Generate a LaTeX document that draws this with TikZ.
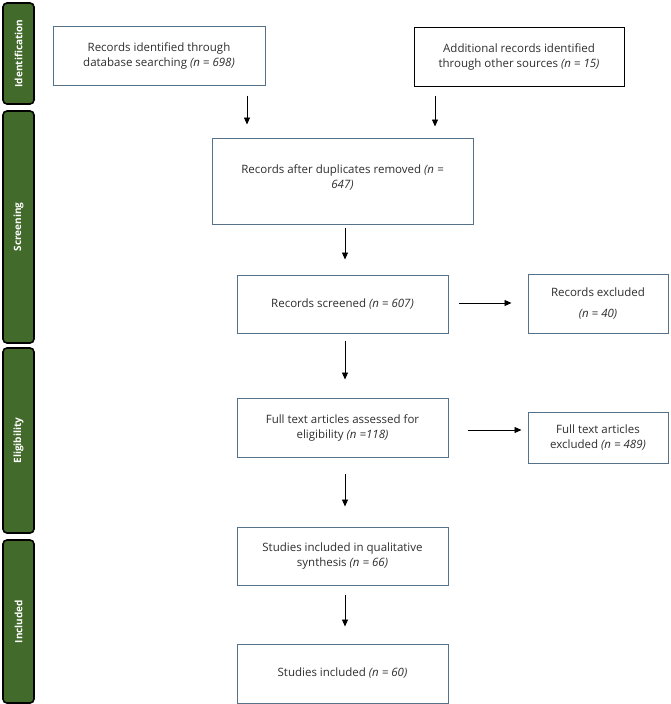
\documentclass[tikz,border=0pt]{standalone}
\usepackage{fontspec}
\setmainfont{Open Sans}
\usetikzlibrary{arrows.meta}
\definecolor{phase}{HTML}{426B2B}
\definecolor{boxline}{HTML}{56728A}
\definecolor{txt}{HTML}{2E2E2E}
\tikzset{
  box/.style={draw=boxline, line width=1pt, fill=white, align=center, text=txt, font=\fontsize{11.5}{15}\selectfont, inner sep=2pt},
  phasebox/.style={draw=black, line width=1.6pt, fill=phase, rounded corners=4pt, minimum width=31pt, text=white, font=\bfseries\fontsize{10}{12}\selectfont},
  arr/.style={-{Triangle[width=6pt,length=7pt]}, line width=0.8pt, black}
}
\newcommand{\nn}[1]{\textit{(n = #1)}}
\begin{document}
\begin{tikzpicture}[x=1pt,y=-1pt]
\useasboundingbox (0,0) rectangle (670,704);
% phases
\node[phasebox, minimum height=101pt] (p1) at (18.5,53.5) {\rotatebox{90}{Identification}};
\node[phasebox, minimum height=232pt] (p2) at (18.5,227) {\rotatebox{90}{Screening}};
\node[phasebox, minimum height=185pt] (p3) at (18.5,440.5) {\rotatebox{90}{Eligibility}};
\node[phasebox, minimum height=163pt] (p4) at (18.5,621.5) {\rotatebox{90}{Included}};
% boxes
\node[box, minimum width=212pt, minimum height=59pt] (b1) at (159,55.5) {Records identified through\\database searching \nn{698}};
\node[box, draw=black, minimum width=210pt, minimum height=59pt] (b2) at (519,56.5) {Additional records identified\\through other sources \nn{15}};
\node[box, minimum width=261pt, minimum height=86pt] (b3) at (342.5,181) {Records after duplicates removed \textit{(n =}\\\textit{647)}\\[-6pt]};
\node[box, minimum width=211pt, minimum height=58pt] (b4) at (342.5,304) {Records screened \nn{607}};
\node[box, minimum width=140pt, minimum height=59pt] (b5) at (598,303.5) {Records excluded\\[6pt]\nn{40}};
\node[box, minimum width=211pt, minimum height=59pt] (b6) at (342.5,427.5) {Full text articles assessed for\\eligibility \textit{(n =118)}};
\node[box, minimum width=140pt, minimum height=51pt] (b7) at (598,437.5) {Full text articles\\excluded \nn{489}};
\node[box, minimum width=211pt, minimum height=58pt] (b8) at (342.5,556) {Studies included in qualitative\\synthesis \nn{66}};
\node[box, minimum width=211pt, minimum height=59pt] (b9) at (342.5,673.5) {Studies included \nn{60}};
% guide coordinates
\coordinate (xa) at (247,0);
\coordinate (xb) at (435,0);
\coordinate (xc) at (345,0);
\coordinate (ya) at (0,303);
\coordinate (yb) at (0,430);
% connectors
\draw[arr, shorten <=10pt, shorten >=13pt] (b1.south -| xa) -- (b3.north -| xa);
\draw[arr, shorten <=9pt, shorten >=11pt] (b2.south -| xb) -- (b3.north -| xb);
\draw[arr, shorten <=3pt, shorten >=15pt] (b3.south -| xc) -- (b4.north -| xc);
\draw[arr, shorten <=10pt, shorten >=16pt] (b4.east |- ya) -- (b5.west |- ya);
\draw[arr, shorten <=7pt, shorten >=18pt] (b4.south -| xc) -- (b6.north -| xc);
\draw[arr, shorten <=19pt, shorten >=6pt] (b6.east |- yb) -- (b7.west |- yb);
\draw[arr, shorten <=16pt, shorten >=20pt] (b6.south -| xc) -- (b8.north -| xc);
\draw[arr, shorten <=9pt, shorten >=17pt] (b8.south -| xc) -- (b9.north -| xc);
\end{tikzpicture}
\end{document}
